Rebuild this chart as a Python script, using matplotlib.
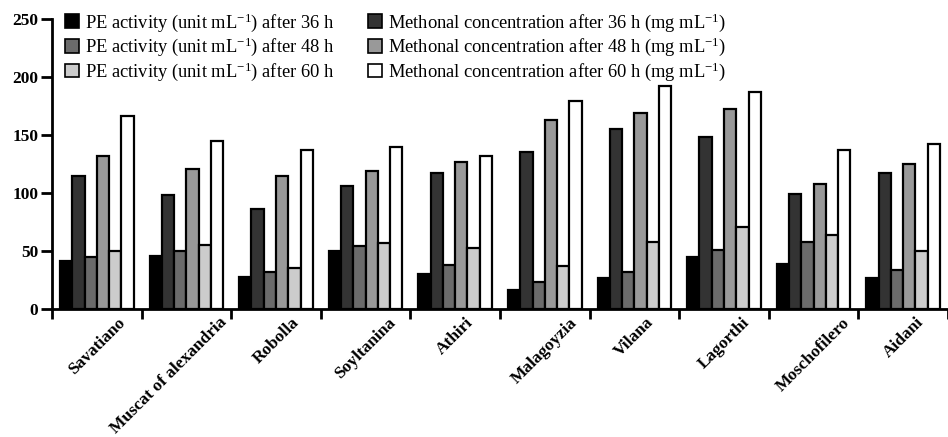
import numpy as np
import matplotlib
matplotlib.use("Agg")
import matplotlib.pyplot as plt
import matplotlib.transforms as mtransforms
from matplotlib.patches import Patch

plt.rcParams['font.family'] = ['Liberation Serif', 'DejaVu Serif']
plt.rcParams['mathtext.fontset'] = 'custom'
plt.rcParams['mathtext.rm'] = 'Liberation Serif'
plt.rcParams['mathtext.it'] = 'Liberation Serif:italic'

# data
varieties = ["Savatiano", "Muscat of alexandria", "Robolla", "Soyltanina", "Athiri",
             "Malagoyzia", "Vilana", "Lagorthi", "Moschofilero", "Aidani"]
pe_36 = [41, 46, 28, 50, 30, 16, 27, 45, 39, 27]
meth_36 = [115, 98, 86, 106, 117, 135, 155, 148, 99, 117]
pe_48 = [45, 50, 32, 54, 38, 23, 32, 51, 58, 34]
meth_48 = [132, 121, 115, 119, 127, 163, 169, 172, 108, 125]
pe_60 = [50, 55, 35, 57, 53, 37, 58, 71, 64, 50]
meth_60 = [166, 145, 137, 140, 132, 179, 192, 187, 137, 142]

series = [
    (pe_36, "#000000", r"PE activity (unit mL$^{-1}$) after 36 h"),
    (meth_36, "#333333", r"Methonal concentration after 36 h (mg mL$^{-1}$)"),
    (pe_48, "#6b6b6b", r"PE activity (unit mL$^{-1}$) after 48 h"),
    (meth_48, "#999999", r"Methonal concentration after 48 h (mg mL$^{-1}$)"),
    (pe_60, "#cccccc", r"PE activity (unit mL$^{-1}$) after 60 h"),
    (meth_60, "#ffffff", r"Methonal concentration after 60 h (mg mL$^{-1}$)"),
]

fig = plt.figure(figsize=(9.48, 4.37), dpi=100)
ax = fig.add_axes([52 / 948, 128 / 437, 896 / 948, 290 / 437])

x = np.arange(len(varieties))
w = 0.137
for i, (vals, col, lab) in enumerate(series):
    ax.bar(x + (i - 2.5) * w, vals, width=w, color=col, edgecolor="black",
           linewidth=1.6, label=lab)

ax.set_ylim(0, 250)
ax.set_xlim(-0.5, 9.35)
ax.set_yticks([0, 50, 100, 150, 200, 250])
ax.set_xticks(x)
ax.set_xticklabels([])
ax.set_xticks(np.arange(-0.5, 10, 1.0), minor=True)

# category labels, rotated; the long one sits a bit left in the original
base = mtransforms.blended_transform_factory(ax.transData, ax.transAxes)
for i, name in enumerate(varieties):
    dx = -0.18 if i == 1 else 0.0
    tr = base + mtransforms.ScaledTranslation(dx, -0.055, fig.dpi_scale_trans)
    ax.text(x[i], 0, name, transform=tr, rotation=45, ha="center", va="top",
            fontweight="bold", fontsize=12.5, clip_on=False)

for lab in ax.get_yticklabels():
    lab.set_fontweight("bold")
    lab.set_fontsize(12.5)
ax.tick_params(axis="x", which="major", length=0)
ax.tick_params(axis="x", which="minor", length=7, width=2)
ax.tick_params(axis="y", length=8, width=2, pad=2)

for s in ["top", "right"]:
    ax.spines[s].set_visible(False)
for s in ["left", "bottom"]:
    ax.spines[s].set_linewidth(2)

# legend: two columns placed separately
handles = [Patch(facecolor=c, edgecolor="black", linewidth=1.2) for _, c, _ in series]
leg_kw = dict(loc="upper left", bbox_transform=fig.transFigure, frameon=False,
              fontsize=13.3, handlelength=0.75, handleheight=0.75, handletextpad=0.35,
              labelspacing=0.12, borderpad=0, borderaxespad=0)
leg1 = ax.legend([handles[i] for i in (0, 2, 4)], [series[i][2] for i in (0, 2, 4)],
                 bbox_to_anchor=(65 / 948, 1 - 11 / 437), **leg_kw)
ax.add_artist(leg1)
ax.legend([handles[i] for i in (1, 3, 5)], [series[i][2] for i in (1, 3, 5)],
          bbox_to_anchor=(368 / 948, 1 - 11 / 437), **leg_kw)

fig.savefig("out.png", dpi=100)
